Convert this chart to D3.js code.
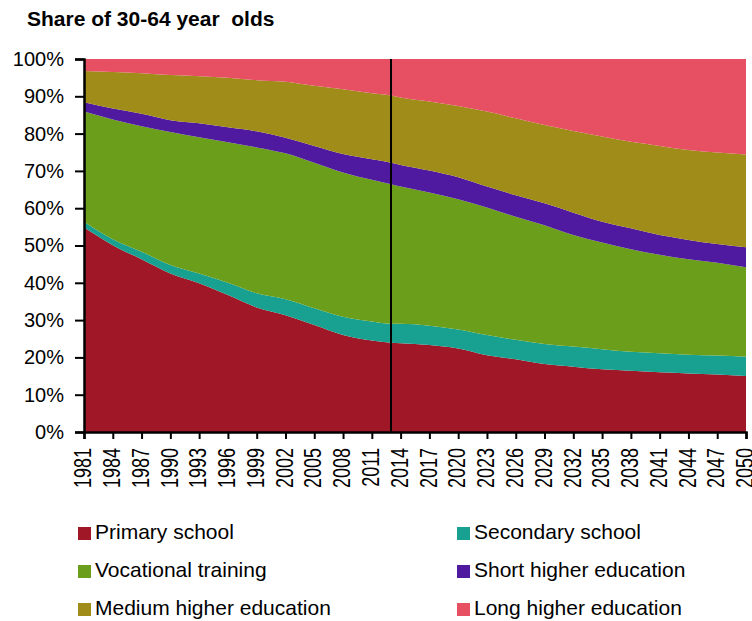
<!DOCTYPE html>
<html>
<head>
<meta charset="utf-8">
<script src="https://cdn.jsdelivr.net/npm/d3@7"></script>
<style>
  body { margin: 0; background: #fff; }
  text { font-family: "Liberation Sans", Arial, sans-serif; fill: #000; }
</style>
</head>
<body>
<div id="container"></div>
<script>
var width = 752,
    height = 621;

// years (every tick + the 2013 divider)
var years = [1981, 1984, 1987, 1990, 1993, 1996, 1999, 2002, 2005, 2008, 2011, 2013, 2014,
             2017, 2020, 2023, 2026, 2029, 2032, 2035, 2038, 2041, 2044, 2047, 2050];

var primary    = [54.8, 50.1, 46.3, 42.5, 39.9, 36.7, 33.4, 31.3, 28.7, 26.0, 24.5, 23.9, 23.8,
                  23.3, 22.4, 20.6, 19.5, 18.2, 17.5, 16.8, 16.4, 16.0, 15.7, 15.4, 15.0];
var secondary  = [1.6, 1.6, 2.0, 2.3, 2.6, 3.3, 3.8, 4.3, 4.5, 4.9, 5.1, 5.1, 5.2,
                  5.2, 5.1, 5.4, 5.2, 5.4, 5.4, 5.4, 5.1, 5.1, 5.0, 5.1, 5.2];
var vocational = [29.5, 32.1, 33.7, 35.6, 36.5, 37.7, 39.1, 39.1, 39.0, 38.7, 38.0, 37.4, 36.8,
                  35.7, 34.9, 34.2, 33.0, 31.8, 29.9, 28.6, 27.5, 26.4, 25.6, 24.9, 24.0];
var shortHigher = [2.5, 2.9, 3.3, 3.2, 3.8, 4.0, 4.3, 4.2, 4.5, 4.9, 5.5, 5.8, 5.8,
                   5.9, 5.9, 5.6, 5.8, 5.9, 6.0, 5.6, 5.6, 5.3, 5.2, 5.0, 5.3];
var mediumHigher = [8.4, 9.8, 10.9, 12.1, 12.6, 13.3, 13.7, 15.0, 16.1, 17.4, 17.7, 18.0, 18.1,
                    18.5, 19.1, 20.1, 20.6, 21.0, 21.9, 22.8, 23.2, 23.9, 24.1, 24.5, 24.9];
var longHigher = [3.2, 3.5, 3.8, 4.3, 4.6, 5.0, 5.7, 6.1, 7.2, 8.1, 9.2, 9.8, 10.3,
                  11.4, 12.6, 14.1, 15.9, 17.7, 19.3, 20.8, 22.2, 23.3, 24.4, 25.1, 25.6];

var seriesNames = ["Primary school", "Secondary school", "Vocational training",
                   "Short higher education", "Medium higher education", "Long higher education"];
var colors = ["#a01828", "#18a190", "#6b9f1b", "#4f1aa0", "#a08c19", "#e65062"];

var tickYears = d3.range(1981, 2051, 3);
var dividerYear = 2013;

var margin = {top: 59, right: 6, bottom: 189, left: 84};

var svg = d3.select("#container")
    .append("svg")
    .attr("width", width)
    .attr("height", height);

var x = d3.scaleLinear().domain([1981, 2050]).range([margin.left, width - margin.right]);
var y = d3.scaleLinear().domain([0, 100]).range([height - margin.bottom, margin.top]);

var table = years.map(function (yr, i) {
    return {
        year: yr,
        s0: primary[i], s1: secondary[i], s2: vocational[i],
        s3: shortHigher[i], s4: mediumHigher[i], s5: longHigher[i]
    };
});

var stack = d3.stack().keys(["s0", "s1", "s2", "s3", "s4", "s5"]).offset(d3.stackOffsetExpand);
var layers = stack(table);

var area = d3.area()
    .x(function (d) { return x(d.data.year); })
    .y0(function (d) { return y(d[0] * 100); })
    .y1(function (d) { return y(d[1] * 100); })
    .curve(d3.curveMonotoneX);

svg.append("g")
    .selectAll("path")
    .data(layers)
    .enter()
    .append("path")
    .attr("d", area)
    .attr("fill", function (d, i) { return colors[i]; });

// divider between history and projection
svg.append("line")
    .attr("x1", x(dividerYear)).attr("x2", x(dividerYear))
    .attr("y1", y(100)).attr("y2", y(0))
    .attr("stroke", "#000")
    .attr("stroke-width", 2);

// y axis
var yAxis = svg.append("g")
    .attr("transform", "translate(" + margin.left + ",0)")
    .call(d3.axisLeft(y).tickValues(d3.range(0, 101, 10))
        .tickFormat(function (d) { return d + "%"; })
        .tickSize(9).tickPadding(11));
yAxis.select(".domain").attr("stroke-width", 2.5);
yAxis.selectAll(".tick line").attr("stroke-width", 2);
yAxis.selectAll("text").attr("font-size", "20px");

// x axis
var xAxis = svg.append("g")
    .attr("transform", "translate(0," + y(0) + ")")
    .call(d3.axisBottom(x).tickValues(tickYears).tickFormat(d3.format("d"))
        .tickSizeOuter(0).tickSize(7));
xAxis.select(".domain").attr("stroke-width", 2.5);
xAxis.selectAll(".tick line").attr("stroke-width", 2);
// labels in the reference are narrow and tall: squeeze along the text direction
xAxis.selectAll("text")
    .attr("font-size", "24px")
    .attr("transform", "rotate(-90) scale(0.75,1)")
    .attr("text-anchor", "end")
    .attr("x", -16 / 0.75)
    .attr("y", 0)
    .attr("dy", "0.28em");

// title
svg.append("text")
    .attr("x", 27)
    .attr("y", 26)
    .attr("font-size", "21px")
    .attr("font-weight", "bold")
    .style("white-space", "pre")
    .attr("xml:space", "preserve")
    .text("Share of 30-64 year  olds");

// legend
var legend = svg.append("g")
    .selectAll("g")
    .data(seriesNames)
    .enter()
    .append("g")
    .attr("transform", function (d, i) {
        var col = i % 2, row = Math.floor(i / 2);
        return "translate(" + (col === 0 ? 78 : 457) + "," + (533 + row * 38) + ")";
    });

legend.append("rect")
    .attr("x", 0).attr("y", -6)
    .attr("width", 13).attr("height", 13)
    .attr("fill", function (d, i) { return colors[i]; });

legend.append("text")
    .attr("x", 17)
    .attr("y", 6)
    .attr("font-size", "21px")
    .text(function (d) { return d; });
</script>
</body>
</html>
